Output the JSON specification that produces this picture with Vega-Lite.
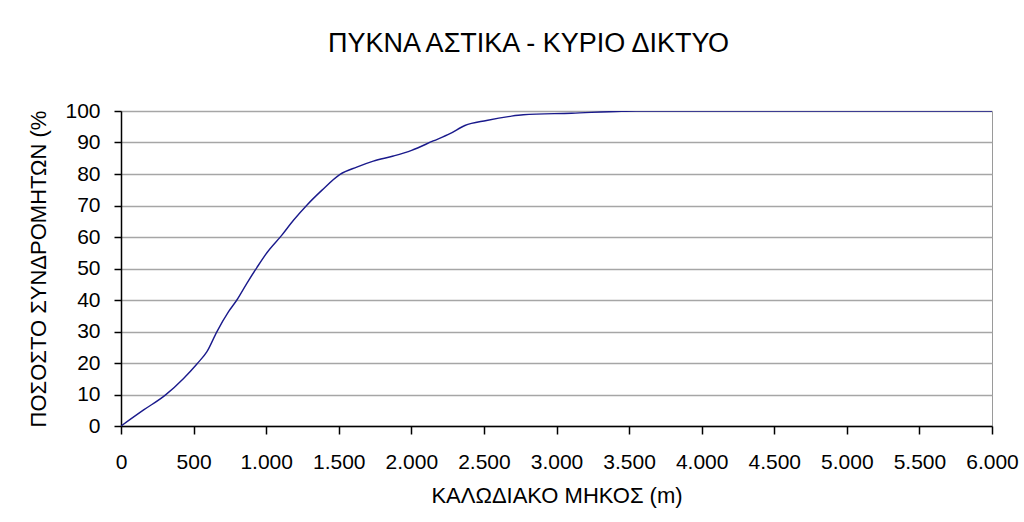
{
  "$schema": "https://vega.github.io/schema/vega-lite/v6.json",
  "width": 871,
  "height": 315,
  "autosize": {"type": "none"},
  "padding": {"left": 121, "top": 111, "right": 32, "bottom": 96},
  "background": "white",
  "title": {
    "text": "ΠΥΚΝΑ ΑΣΤΙΚΑ - ΚΥΡΙΟ ΔΙΚΤΥΟ",
    "font": "Liberation Sans",
    "fontSize": 27,
    "fontWeight": "normal",
    "color": "#000000",
    "anchor": "middle",
    "frame": "group",
    "dx": -28,
    "offset": 42
  },
  "data": {
    "values": [
      {"x": 0, "y": 0},
      {"x": 156, "y": 5.1},
      {"x": 305, "y": 9.8},
      {"x": 431, "y": 15.1},
      {"x": 523, "y": 19.7},
      {"x": 592, "y": 23.6},
      {"x": 660, "y": 29.9},
      {"x": 741, "y": 36.3},
      {"x": 798, "y": 40},
      {"x": 867, "y": 45.3},
      {"x": 936, "y": 50.3},
      {"x": 1005, "y": 55},
      {"x": 1108, "y": 60.6},
      {"x": 1188, "y": 65.3},
      {"x": 1280, "y": 70.1},
      {"x": 1383, "y": 74.8},
      {"x": 1509, "y": 79.9},
      {"x": 1624, "y": 82.2},
      {"x": 1738, "y": 84.1},
      {"x": 1876, "y": 85.7},
      {"x": 2002, "y": 87.5},
      {"x": 2151, "y": 90.5},
      {"x": 2266, "y": 92.8},
      {"x": 2369, "y": 95.4},
      {"x": 2518, "y": 97.0},
      {"x": 2679, "y": 98.3},
      {"x": 2771, "y": 98.8},
      {"x": 3104, "y": 99.3},
      {"x": 3448, "y": 99.9},
      {"x": 3550, "y": 100},
      {"x": 6000, "y": 100}
    ]
  },
  "mark": {"type": "line", "color": "#1a1a8c", "strokeWidth": 1.4, "clip": true, "interpolate": "monotone"},
  "encoding": {
    "x": {
      "field": "x",
      "type": "quantitative",
      "scale": {"domain": [0, 6000], "nice": false},
      "axis": {
        "title": "ΚΑΛΩΔΙΑΚΟ ΜΗΚΟΣ (m)",
        "values": [0, 500, 1000, 1500, 2000, 2500, 3000, 3500, 4000, 4500, 5000, 5500, 6000],
        "labelExpr": "replace(format(datum.value, ','), ',', '.')",
        "grid": false,
        "tickSize": 8,
        "labelPadding": 17,
        "titlePadding": 13,
        "titleFontSize": 22
      }
    },
    "y": {
      "field": "y",
      "type": "quantitative",
      "scale": {"domain": [0, 100], "nice": false},
      "axis": {
        "title": "ΠΟΣΟΣΤΟ ΣΥΝΔΡΟΜΗΤΩΝ (%",
        "values": [0, 10, 20, 30, 40, 50, 60, 70, 80, 90, 100],
        "grid": true,
        "tickSize": 7,
        "labelPadding": 14,
        "titlePadding": 14,
        "titleFontSize": 22
      }
    }
  },
  "config": {
    "view": {"stroke": "#9a9a9a", "strokeWidth": 1},
    "axis": {
      "labelFont": "Liberation Sans",
      "labelFontSize": 21,
      "labelColor": "#000000",
      "titleFont": "Liberation Sans",
      "titleFontSize": 21,
      "titleFontWeight": "normal",
      "titleColor": "#000000",
      "domainColor": "#000000",
      "domainWidth": 1.5,
      "tickColor": "#000000",
      "tickWidth": 1.5,
      "gridColor": "#a6a6a6",
      "gridWidth": 1.5,
      "labelFlush": false,
      "labelOverlap": false
    }
  }
}
